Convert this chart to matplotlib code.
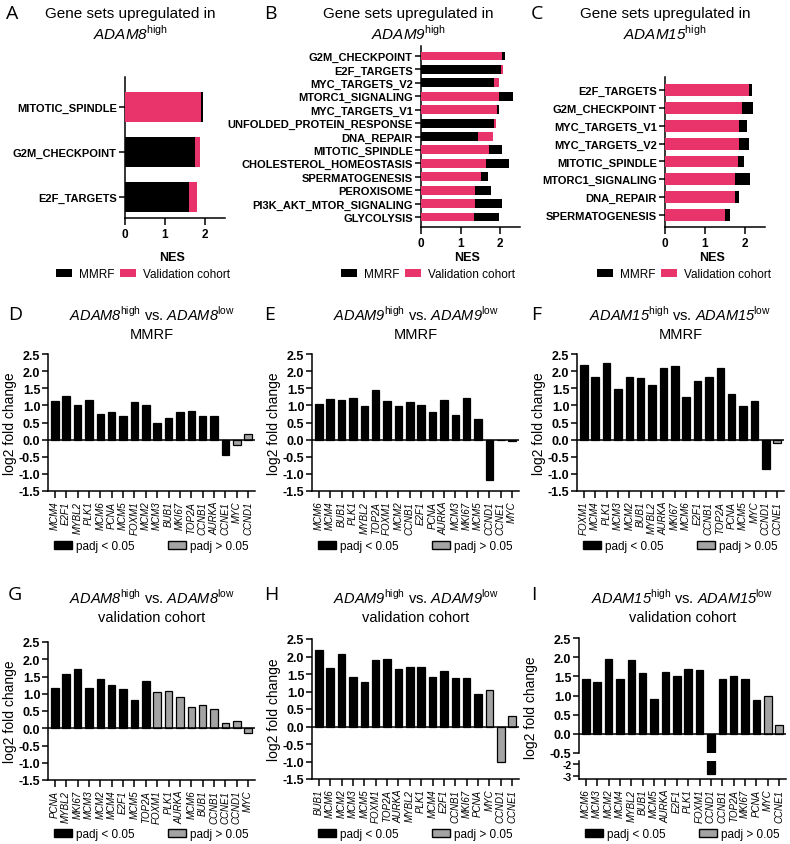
import matplotlib
matplotlib.use('Agg')
import matplotlib.pyplot as plt
from matplotlib.patches import Patch

plt.rcParams['font.family'] = ['Liberation Sans', 'DejaVu Sans']
plt.rcParams['mathtext.fontset'] = 'custom'
plt.rcParams['mathtext.rm'] = 'Liberation Sans'
plt.rcParams['mathtext.sf'] = 'Liberation Sans:italic'
plt.rcParams['axes.linewidth'] = 1.1

PINK = '#E8336B'
GRAY = '#A3A3A3'

# --- NES panels (A, B, C) ---
a_sets = ['MITOTIC_SPINDLE', 'G2M_CHECKPOINT', 'E2F_TARGETS']
a_mmrf = [1.96, 1.74, 1.61]
a_valid = [1.91, 1.88, 1.79]

b_sets = ['G2M_CHECKPOINT', 'E2F_TARGETS', 'MYC_TARGETS_V2', 'MTORC1_SIGNALING',
          'MYC_TARGETS_V1', 'UNFOLDED_PROTEIN_RESPONSE', 'DNA_REPAIR', 'MITOTIC_SPINDLE',
          'CHOLESTEROL_HOMEOSTASIS', 'SPERMATOGENESIS', 'PEROXISOME',
          'PI3K_AKT_MTOR_SIGNALING', 'GLYCOLYSIS']
b_mmrf = [2.12, 2.01, 1.84, 2.32, 1.98, 1.84, 1.43, 2.04, 2.21, 1.68, 1.77, 2.04, 1.98]
b_valid = [2.04, 2.06, 1.97, 1.97, 1.92, 1.90, 1.81, 1.71, 1.63, 1.52, 1.36, 1.36, 1.35]

c_sets = ['E2F_TARGETS', 'G2M_CHECKPOINT', 'MYC_TARGETS_V1', 'MYC_TARGETS_V2',
          'MITOTIC_SPINDLE', 'MTORC1_SIGNALING', 'DNA_REPAIR', 'SPERMATOGENESIS']
c_mmrf = [2.17, 2.21, 2.06, 2.10, 1.97, 2.13, 1.85, 1.63]
c_valid = [2.10, 1.93, 1.85, 1.85, 1.82, 1.76, 1.75, 1.49]

# --- log2 fold change panels (D-I) ---
d_genes = ['MCM4', 'E2F1', 'MYBL2', 'PLK1', 'MCM6', 'PCNA', 'MCM5', 'FOXM1', 'MCM2',
           'MCM3', 'BUB1', 'MKI67', 'TOP2A', 'CCNB1', 'AURKA', 'CCNE1', 'MYC', 'CCND1']
d_lfc = [1.13, 1.27, 1.02, 1.17, 0.75, 0.82, 0.69, 1.11, 1.00, 0.49, 0.64, 0.82, 0.85,
         0.68, 0.68, -0.46, -0.16, 0.16]
d_sig = [1] * 16 + [0, 0]

e_genes = ['MCM6', 'MCM4', 'BUB1', 'PLK1', 'MYBL2', 'TOP2A', 'FOXM1', 'MCM2', 'CCNB1',
           'E2F1', 'PCNA', 'AURKA', 'MCM3', 'MKI67', 'MCM5', 'CCND1', 'CCNE1', 'MYC']
e_lfc = [1.05, 1.19, 1.16, 1.22, 0.97, 1.44, 1.14, 0.99, 1.09, 1.02, 0.80, 1.15, 0.73,
         1.22, 0.60, -1.18, -0.02, -0.04]
e_sig = [1] * 16 + [0, 0]

f_genes = ['FOXM1', 'MCM4', 'PLK1', 'MCM3', 'MCM2', 'BUB1', 'MYBL2', 'AURKA', 'MKI67',
           'MCM6', 'E2F1', 'CCNB1', 'TOP2A', 'PCNA', 'MCM5', 'MYC', 'CCND1', 'CCNE1']
f_lfc = [2.19, 1.83, 2.24, 1.48, 1.83, 1.79, 1.60, 2.08, 2.15, 1.23, 1.70, 1.84, 2.10,
         1.34, 0.98, 1.13, -0.87, -0.10]
f_sig = [1] * 17 + [0]

g_genes = ['PCNA', 'MYBL2', 'MKI67', 'MCM3', 'MCM2', 'MCM4', 'E2F1', 'MCM5', 'TOP2A',
           'FOXM1', 'PLK1', 'AURKA', 'MCM6', 'BUB1', 'CCNB1', 'CCNE1', 'CCND1', 'MYC']
g_lfc = [1.18, 1.57, 1.71, 1.18, 1.44, 1.25, 1.13, 0.83, 1.37, 1.06, 1.08, 0.91, 0.63,
         0.68, 0.56, 0.14, 0.22, -0.13]
g_sig = [1] * 9 + [0] * 9

h_genes = ['BUB1', 'MCM6', 'MCM2', 'MCM3', 'MCM5', 'FOXM1', 'TOP2A', 'AURKA', 'MYBL2',
           'PLK1', 'MCM4', 'E2F1', 'CCNB1', 'MKI67', 'PCNA', 'MYC', 'CCND1', 'CCNE1']
h_lfc = [2.19, 1.68, 2.07, 1.42, 1.27, 1.91, 1.92, 1.63, 1.71, 1.69, 1.41, 1.58, 1.38,
         1.40, 0.93, 1.05, -1.02, 0.29]
h_sig = [1] * 15 + [0, 0, 0]

i_genes = ['MCM6', 'MCM3', 'MCM2', 'MCM4', 'MYBL2', 'BUB1', 'MCM5', 'AURKA', 'E2F1',
           'PLK1', 'FOXM1', 'CCND1', 'CCNB1', 'TOP2A', 'MKI67', 'PCNA', 'MYC', 'CCNE1']
i_lfc = [1.44, 1.35, 1.96, 1.44, 1.93, 1.59, 0.91, 1.61, 1.52, 1.70, 1.66, -2.8, 1.42,
         1.51, 1.42, 0.87, 0.98, 0.22]
i_sig = [1] * 16 + [0, 0]

lfc_ticks = [-1.5, -1.0, -0.5, 0.0, 0.5, 1.0, 1.5, 2.0, 2.5]

W, H = 790, 845
fig = plt.figure(figsize=(W / 100, H / 100), dpi=100)


def box(l, t, r, b):
    return [l / W, 1 - b / H, (r - l) / W, (b - t) / H]


def ftext(x, y, s, **kw):
    fig.text(x / W, 1 - y / H, s, ha='center', va='center', **kw)


def letter(x, y, s):
    fig.text(x / W, 1 - y / H, s, ha='left', va='center', fontsize=14,
             family=['Open Sans', 'DejaVu Sans'])


def adam(gene, sup):
    return r'$\mathsf{%s}^{\mathrm{%s}}$' % (gene, sup)


def nes_panel(rect, sets, mmrf, valid, ylim, gene, lx, title_x):
    ax = fig.add_axes(box(*rect))
    for i in range(len(sets)):
        pairs = sorted([(mmrf[i], 'black'), (valid[i], PINK)], reverse=True)
        ax.barh(i, pairs[0][0], height=0.66, color=pairs[0][1], zorder=2)
        ax.barh(i, pairs[1][0], height=0.66, color=pairs[1][1], zorder=3)
    ax.set_yticks(range(len(sets)))
    ax.set_yticklabels(sets, fontsize=8, fontweight='bold')
    ax.set_ylim(*ylim)
    ax.set_xlim(0, 2.5)
    ax.set_xticks([0, 1, 2])
    ax.set_xticklabels(['0', '1', '2'], fontsize=8.5, fontweight='bold')
    ax.tick_params(axis='y', length=4, width=1.1, pad=2)
    ax.tick_params(axis='x', length=5, width=1.1, pad=2)
    ax.spines['top'].set_visible(False)
    ax.spines['right'].set_visible(False)
    ftext((rect[0] + rect[2]) / 2 - 3, 258, 'NES', fontsize=9, fontweight='bold')
    ftext(title_x, 14, 'Gene sets upregulated in', fontsize=11)
    ftext(title_x, 33, adam(gene, 'high'), fontsize=11)
    fig.legend([Patch(facecolor='black'), Patch(facecolor=PINK)],
               ['MMRF', 'Validation cohort'], loc='center',
               bbox_to_anchor=(lx / W, 1 - 275 / H), ncol=2, frameon=False,
               fontsize=8.5, handlelength=1.3, handleheight=0.6,
               handletextpad=0.6, columnspacing=0.5, borderpad=0)
    return ax


def style_lfc(ax, genes, bottom=True):
    ax.set_xlim(-0.6, len(genes) - 0.4)
    ax.spines['top'].set_visible(False)
    ax.spines['right'].set_visible(False)
    ax.tick_params(axis='y', length=4, width=1.1, pad=1.5)
    ax.set_xticks(range(len(genes)))
    if bottom:
        ax.set_xticklabels(genes, rotation=90, fontsize=7, fontstyle='italic')
        ax.tick_params(axis='x', length=5, width=1.1, pad=2)
    else:
        ax.tick_params(axis='x', bottom=False, labelbottom=False)


def draw_bars(ax, lfc, sig):
    colors = ['black' if s else GRAY for s in sig]
    ax.bar(range(len(lfc)), lfc, width=0.66, color=colors, edgecolor='black',
           linewidth=0.9, zorder=2)


def lfc_legend(cx, cy):
    fig.legend([Patch(facecolor='black', edgecolor='black'),
                Patch(facecolor=GRAY, edgecolor='black')],
               ['padj < 0.05', 'padj > 0.05'], loc='center',
               bbox_to_anchor=(cx / W, 1 - cy / H), ncol=2, frameon=False,
               fontsize=8.5, handlelength=1.5, handleheight=0.7,
               handletextpad=0.4, columnspacing=2.8, borderpad=0)


def lfc_titles(cx, ty, gene, sub):
    ftext(cx, ty, adam(gene, 'high') + ' vs. ' + adam(gene, 'low'), fontsize=10.5)
    ftext(cx, ty + 21, sub, fontsize=10.5)


def lfc_panel(rect, genes, lfc, sig, gene, sub, ty, legy):
    ax = fig.add_axes(box(*rect))
    draw_bars(ax, lfc, sig)
    ax.axhline(0, color='black', lw=1.1, zorder=3)
    ax.set_ylim(-1.5, 2.5)
    ax.set_yticks(lfc_ticks)
    ax.set_yticklabels(['%.1f' % t for t in lfc_ticks], fontsize=9, fontweight='bold')
    style_lfc(ax, genes)
    ax.set_ylabel('log2 fold change', fontsize=10, labelpad=1)
    cx = (rect[0] + rect[2]) / 2
    lfc_titles(cx, ty, gene, sub)
    lfc_legend(cx, legy)
    return ax


# top row
nes_panel((125, 78, 225, 219), a_sets, a_mmrf, a_valid, (2.46, -0.67), 'ADAM8', 143, 130)
nes_panel((421, 47, 520, 228), b_sets, b_mmrf, b_valid, (12.75, -0.75), 'ADAM9', 428, 408)
nes_panel((665, 78, 765, 228), c_sets, c_mmrf, c_valid, (7.67, -0.73), 'ADAM15', 684, 665)
letter(6, 14, 'A')
letter(264, 14, 'B')
letter(531, 14, 'C')

# middle row (MMRF)
lfc_panel((48, 355, 255, 492), d_genes, d_lfc, d_sig, 'ADAM8', 'MMRF', 314, 547)
lfc_panel((312, 355, 519, 492), e_genes, e_lfc, e_sig, 'ADAM9', 'MMRF', 314, 547)
lfc_panel((577, 355, 784, 492), f_genes, f_lfc, f_sig, 'ADAM15', 'MMRF', 314, 547)
letter(8, 315, 'D')
letter(264, 315, 'E')
letter(531, 315, 'F')

# bottom row (validation cohort)
lfc_panel((48, 643, 255, 781), g_genes, g_lfc, g_sig, 'ADAM8', 'validation cohort', 597, 835)
lfc_panel((312, 640, 519, 780), h_genes, h_lfc, h_sig, 'ADAM9', 'validation cohort', 597, 835)

# panel I with broken y axis
up_ticks = lfc_ticks[2:]
ax_up = fig.add_axes(box(579, 639, 786, 754))
draw_bars(ax_up, i_lfc, i_sig)
ax_up.axhline(0, color='black', lw=1.1, zorder=3)
ax_up.set_ylim(-0.5, 2.5)
ax_up.set_yticks(up_ticks)
ax_up.set_yticklabels(['%.1f' % t for t in up_ticks], fontsize=9, fontweight='bold')
style_lfc(ax_up, i_genes, bottom=False)
ax_up.spines['bottom'].set_visible(False)
ax_up.set_ylabel('log2 fold change', fontsize=10, labelpad=1)
ax_up.yaxis.set_label_coords(-0.2, 0.4)

ax_lo = fig.add_axes(box(579, 762, 786, 780))
draw_bars(ax_lo, i_lfc, i_sig)
ax_lo.set_ylim(-3.25, -1.75)
ax_lo.set_yticks([-3, -2])
ax_lo.set_yticklabels(['-3', '-2'], fontsize=7.5, fontweight='bold')
style_lfc(ax_lo, i_genes)
ax_lo.tick_params(axis='y', pad=1)

cx_i = (579 + 786) / 2
lfc_titles(cx_i, 597, 'ADAM15', 'validation cohort')
lfc_legend(cx_i, 835)
letter(8, 595, 'G')
letter(264, 595, 'H')
letter(531, 595, 'I')

fig.savefig('out.png', dpi=100)
